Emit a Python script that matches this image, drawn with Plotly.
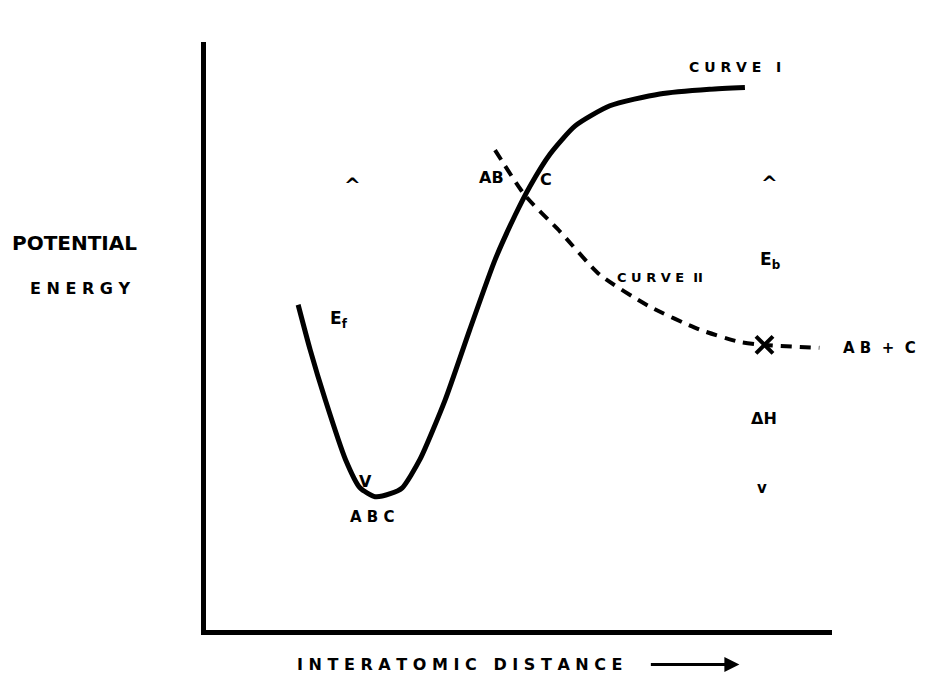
import plotly.graph_objects as go

# Curve I (solid) - interatomic distance vs potential energy (arbitrary units)
curve1_x = [1.50, 1.69, 1.93, 2.25, 2.48, 2.72, 2.96, 3.15, 3.43, 3.83, 4.22, 4.62, 4.94, 5.17, 5.49, 5.89, 6.44, 7.23, 8.02, 8.58]
curve1_y = [5.55, 4.79, 3.94, 2.93, 2.45, 2.30, 2.35, 2.45, 2.93, 3.94, 5.13, 6.31, 7.07, 7.55, 8.10, 8.58, 8.92, 9.12, 9.20, 9.23]

# Curve II (dashed)
curve2_x = [4.62, 5.09, 5.65, 6.28, 7.07, 7.86, 8.50, 8.89, 9.76]
curve2_y = [8.17, 7.41, 6.79, 6.06, 5.52, 5.13, 4.92, 4.87, 4.82]

# Marked point AB + C
mark_x = [8.89]
mark_y = [4.87]

# Labels in data units (text, x, y, size)
labels = [
    ("C U R V E   I", 8.43, 9.57, 14),
    ("AB", 4.57, 7.70, 16),
    ("C", 5.43, 7.67, 16),
    ("C U R V E  II", 7.23, 6.02, 13),
    ("E<sub>f</sub>", 2.15, 5.30, 17),
    ("E<sub>b</sub>", 8.97, 6.30, 17),
    ("ΔH", 8.88, 3.63, 16),
    ("A B C", 2.68, 1.95, 15),
    ("^", 2.36, 7.58, 20),
    ("^", 8.97, 7.62, 20),
    ("v", 8.85, 2.45, 15),
    ("V", 2.56, 2.55, 16),
]

fig = go.Figure()
fig.add_trace(go.Scatter(x=curve1_x, y=curve1_y, mode="lines",
                         line=dict(color="black", width=5, shape="spline", smoothing=0.6),
                         hoverinfo="skip"))
fig.add_trace(go.Scatter(x=curve2_x, y=curve2_y, mode="lines",
                         line=dict(color="black", width=4, dash="11px,8px", shape="spline", smoothing=0.6),
                         hoverinfo="skip"))
fig.add_trace(go.Scatter(x=mark_x, y=mark_y, mode="markers",
                         marker=dict(symbol="x-thin", size=17, line=dict(color="black", width=4)),
                         hoverinfo="skip"))

font_family = "DejaVu Sans"
for txt, x, y, s in labels:
    fig.add_annotation(x=x, y=y, text="<b>" + txt + "</b>", showarrow=False,
                       font=dict(family=font_family, size=s, color="black"), xanchor="center", yanchor="middle")

# text outside the data area, in paper units
fig.add_annotation(xref="paper", yref="y", x=1.076, y=4.82, text="<b>A B  +  C</b>", showarrow=False,
                   font=dict(family=font_family, size=15, color="black"), xanchor="center", yanchor="middle")
fig.add_annotation(xref="paper", yref="paper", x=-0.2097, y=0.658, text="<b>POTENTIAL</b>", showarrow=False,
                   font=dict(family=font_family, size=20, color="black"), xanchor="center", yanchor="middle")
fig.add_annotation(xref="paper", yref="paper", x=-0.200, y=0.581, text="<b>E N E R G Y</b>", showarrow=False,
                   font=dict(family=font_family, size=16, color="black"), xanchor="center", yanchor="middle")
fig.add_annotation(xref="paper", yref="paper", x=0.406, y=-0.0586, text="<b>I N T E R A T O M I C   D I S T A N C E</b>",
                   showarrow=False, font=dict(family=font_family, size=16, color="black"), xanchor="center", yanchor="middle")
fig.add_annotation(xref="paper", yref="paper", x=0.852, y=-0.0586, ax=-90, ay=0, text="",
                   showarrow=True, arrowhead=2, arrowsize=1, arrowwidth=3, arrowcolor="black")

fig.update_xaxes(range=[0.04, 9.96], showline=True, linewidth=5, linecolor="black", showgrid=False,
                 zeroline=False, showticklabels=False, ticks="")
fig.update_yaxes(range=[0.042, 10.0], showline=True, linewidth=5, linecolor="black", showgrid=False,
                 zeroline=False, showticklabels=False, ticks="")
fig.update_layout(width=928, height=677, showlegend=False,
                  margin=dict(l=197.5, r=103.5, t=34, b=54.5),
                  plot_bgcolor="white", paper_bgcolor="white")
fig.write_html("out.html")
